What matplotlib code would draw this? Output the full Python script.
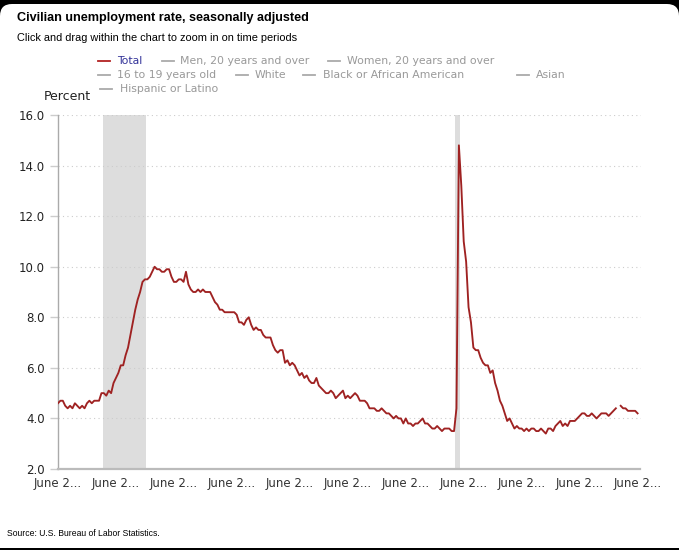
import numpy as np
import matplotlib.pyplot as plt
from matplotlib.lines import Line2D
from matplotlib.patches import FancyBboxPatch, Rectangle

# monthly civilian unemployment rate, June 2006 .. June 2026 (Oct 2025 not published)
start_year, start_month = 2006, 6
rate = [
    4.6, 4.7, 4.7, 4.5, 4.4, 4.5, 4.4,                                  # 2006 Jun-Dec
    4.6, 4.5, 4.4, 4.5, 4.4, 4.6, 4.7, 4.6, 4.7, 4.7, 4.7, 5.0,         # 2007
    5.0, 4.9, 5.1, 5.0, 5.4, 5.6, 5.8, 6.1, 6.1, 6.5, 6.8, 7.3,         # 2008
    7.8, 8.3, 8.7, 9.0, 9.4, 9.5, 9.5, 9.6, 9.8, 10.0, 9.9, 9.9,        # 2009
    9.8, 9.8, 9.9, 9.9, 9.6, 9.4, 9.4, 9.5, 9.5, 9.4, 9.8, 9.3,         # 2010
    9.1, 9.0, 9.0, 9.1, 9.0, 9.1, 9.0, 9.0, 9.0, 8.8, 8.6, 8.5,         # 2011
    8.3, 8.3, 8.2, 8.2, 8.2, 8.2, 8.2, 8.1, 7.8, 7.8, 7.7, 7.9,         # 2012
    8.0, 7.7, 7.5, 7.6, 7.5, 7.5, 7.3, 7.2, 7.2, 7.2, 6.9, 6.7,         # 2013
    6.6, 6.7, 6.7, 6.2, 6.3, 6.1, 6.2, 6.1, 5.9, 5.7, 5.8, 5.6,         # 2014
    5.7, 5.5, 5.4, 5.4, 5.6, 5.3, 5.2, 5.1, 5.0, 5.0, 5.1, 5.0,         # 2015
    4.8, 4.9, 5.0, 5.1, 4.8, 4.9, 4.8, 4.9, 5.0, 4.9, 4.7, 4.7,         # 2016
    4.7, 4.6, 4.4, 4.4, 4.4, 4.3, 4.3, 4.4, 4.3, 4.2, 4.2, 4.1,         # 2017
    4.0, 4.1, 4.0, 4.0, 3.8, 4.0, 3.8, 3.8, 3.7, 3.8, 3.8, 3.9,         # 2018
    4.0, 3.8, 3.8, 3.7, 3.6, 3.6, 3.7, 3.6, 3.5, 3.6, 3.6, 3.6,         # 2019
    3.5, 3.5, 4.4, 14.8, 13.2, 11.0, 10.2, 8.4, 7.8, 6.8, 6.7, 6.7,     # 2020
    6.4, 6.2, 6.1, 6.1, 5.8, 5.9, 5.4, 5.1, 4.7, 4.5, 4.2, 3.9,         # 2021
    4.0, 3.8, 3.6, 3.7, 3.6, 3.6, 3.5, 3.6, 3.5, 3.6, 3.6, 3.5,         # 2022
    3.5, 3.6, 3.5, 3.4, 3.6, 3.6, 3.5, 3.7, 3.8, 3.9, 3.7, 3.8,         # 2023
    3.7, 3.9, 3.9, 3.9, 4.0, 4.1, 4.2, 4.2, 4.1, 4.1, 4.2, 4.1,         # 2024
    4.0, 4.1, 4.2, 4.2, 4.2, 4.1, 4.2, 4.3, 4.4, np.nan, 4.5, 4.4,      # 2025
    4.4, 4.3, 4.3, 4.3, 4.3, 4.2,                                       # 2026 Jan-Jun
]

# recessions as (start, end) month offsets from June 2006
recessions = [(18, 36), (164, 166)]   # Dec 2007-Jun 2009, Feb 2020-Apr 2020

tick_months = list(range(0, 241, 24))
tick_labels = ["June 2..."] * len(tick_months)
y_ticks = [2, 4, 6, 8, 10, 12, 14, 16]

legend_rows = [
    [("Total", 98, 117), ("Men, 20 years and over", 162, 180), ("Women, 20 years and over", 328, 347)],
    [("16 to 19 years old", 98, 117), ("White", 236, 255), ("Black or African American", 303, 323), ("Asian", 517, 536)],
    [("Hispanic or Latino", 100, 120)],
]

W, H = 679, 550


def px(x, y):
    return x / W, 1 - y / H


fig = plt.figure(figsize=(W / 100, H / 100), dpi=100)
fig.patch.set_facecolor("black")

# white card with rounded top corners
fig.add_artist(FancyBboxPatch((0, 2), W, H - 6, boxstyle="round,pad=0,rounding_size=12",
                              transform=None, fc="white", ec="none", zorder=-10))
fig.add_artist(Rectangle((0, 2), W, 200, transform=None, fc="white", ec="none", zorder=-10))

l, b = px(57.5, 469)
r, t = px(640.5, 115)
ax = fig.add_axes([l, b, r - l, t - b])
ax.set_facecolor("none")

months = np.arange(len(rate))
for s, e in recessions:
    ax.axvspan(s + 0.5, e + 0.5, color="#dddddd", lw=0, zorder=0)

ax.plot(months, rate, color="#9f2222", lw=1.35, zorder=3)

ax.set_xlim(-0.2, 241.2)
ax.set_ylim(2, 16)
ax.set_yticks(y_ticks)
ax.set_yticklabels([f"{v:.1f}" for v in y_ticks], fontsize=8.5, color="#222222",
                   family="DejaVu Sans")
ax.set_xticks(tick_months)
ax.set_xticklabels(tick_labels, fontsize=8.5, color="#333333", family="DejaVu Sans")
ax.tick_params(axis="y", length=6, color="#cccccc", width=1, pad=3)
ax.tick_params(axis="x", length=0, pad=6)

for v in y_ticks[1:]:
    ax.axhline(v, color="#cccccc", lw=0.8, ls=(0, (1, 3)), zorder=1)

for side in ["top", "right"]:
    ax.spines[side].set_visible(False)
ax.spines["left"].set_color("#aaaaaa")
ax.spines["left"].set_linewidth(1)
ax.spines["bottom"].set_color("#bbbbbb")
ax.spines["bottom"].set_linewidth(1.6)

# titles
fig.text(*px(17, 18), "Civilian unemployment rate, seasonally adjusted", fontsize=9.1,
         fontweight="bold", family="Liberation Sans", va="center", ha="left")
fig.text(*px(17, 38), "Click and drag within the chart to zoom in on time periods", fontsize=7.9,
         family="Liberation Sans", va="center", ha="left")
fig.text(*px(91, 96), "Percent", fontsize=9, family="DejaVu Sans", color="#222222",
         va="center", ha="right")

# legend
row_y = [61, 75, 89]
for row, y in zip(legend_rows, row_y):
    for name, lx, tx in row:
        first = name == "Total"
        fig.add_artist(Line2D([lx / W, (lx + 12) / W], [1 - y / H, 1 - y / H],
                              color="#b22222" if first else "#aaaaaa", lw=1.3))
        fig.text(*px(tx, y), name, fontsize=7.8, family="DejaVu Sans",
                 color="#333399" if first else "#999999", va="center", ha="left")

fig.text(*px(7, 533), "Source: U.S. Bureau of Labor Statistics.", fontsize=6.2,
         family=["Liberation Sans Narrow", "Liberation Sans"], va="center", ha="left")

fig.savefig("out.png", dpi=100, facecolor=fig.get_facecolor())
